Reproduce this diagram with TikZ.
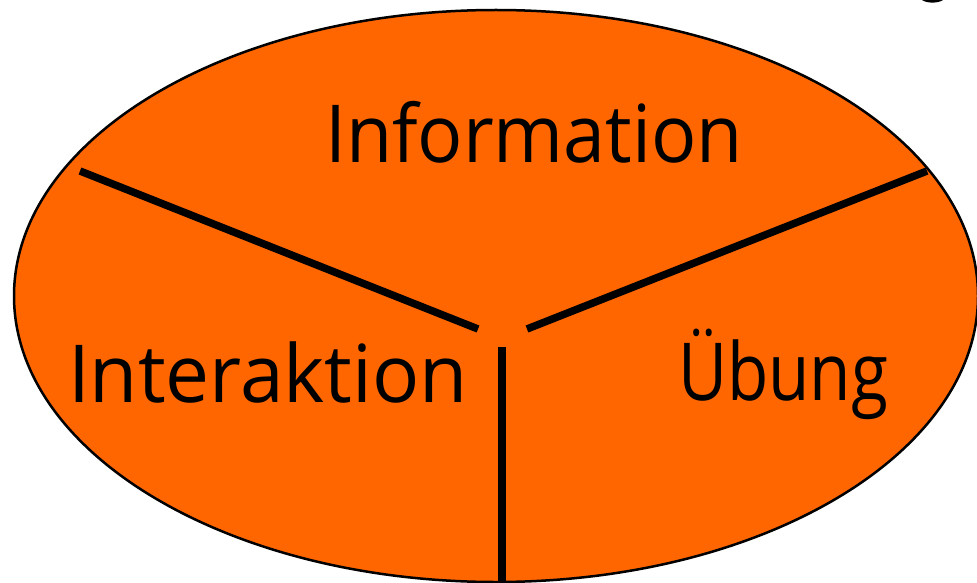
\documentclass[tikz,border=0pt]{standalone}
\usepackage{fontspec}
\setmainfont{Open Sans}
\usepackage{graphicx}
\definecolor{pieorange}{HTML}{FF6600}
\tikzset{
  pie/.style={fill=pieorange, draw=black, line width=2.5pt},
  divider/.style={draw=black, line width=7.5pt},
  label/.style={anchor=base west, inner sep=0pt, outer sep=0pt,
    font=\fontsize{80pt}{96pt}\selectfont}
}
\begin{document}
\begin{tikzpicture}[x=1pt,y=-1pt]
\useasboundingbox (0,0) rectangle (977,583);
\fill[white] (0,0) rectangle (977,583);
\path[pie] (496,296) ellipse [x radius=482, y radius=286];
% tiny cut-off shape at the top right
\fill[black] (922,0) .. controls (927,3.5) and (938,3.5) .. (943,0) -- cycle;
% dividers
\coordinate (l1) at (80,171);
\coordinate (l2) at (478,329);
\coordinate (r1) at (527,329);
\coordinate (r2) at (927,171);
\coordinate (v1) at (502,347);
\coordinate (v2) at (502,590);
\draw[divider] (l1) -- (l2);
\draw[divider] (r1) -- (r2);
\draw[divider] (v1) -- (v2);
% labels
\node[label] (info) at (325,162) {\resizebox{418pt}{\height}{Information}};
\node[label] (inter) at (68,402) {\resizebox{400pt}{\height}{Interaktion}};
\node[label] (ueb) at (678,400) {\resizebox{210pt}{\height}{Übung}};
\end{tikzpicture}
\end{document}
